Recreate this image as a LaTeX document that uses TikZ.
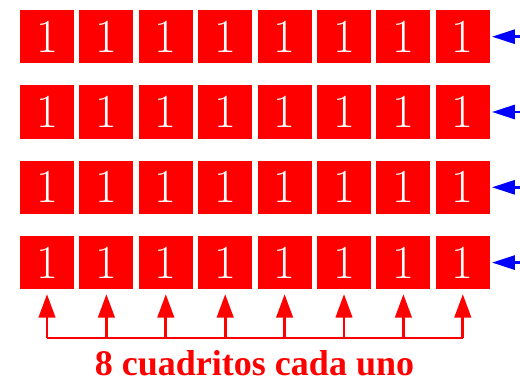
\documentclass[tikz,border=0pt]{standalone}
\usepackage{amsmath,amssymb}
\usepackage{tikz}
\usepackage{xcolor}
\usepackage{fontspec}
\usetikzlibrary{arrows.meta}
\newfontfamily\letrero{Liberation Serif}

\tikzset{
  cuadro/.style={fill=red, text=white, minimum width=1.08cm, minimum height=1.07cm,
    inner sep=0pt, font=\fontsize{27}{27}\selectfont},
  flechaazul/.style={blue, line width=1.6pt, -{Triangle[length=0.46cm,width=0.28cm]}, shorten >=1pt},
  flecharoja/.style={red, line width=1.6pt, -{Triangle[length=0.47cm,width=0.33cm]}, shorten >=0.09cm},
}

\begin{document}
\begin{tikzpicture}[x=0.02cm,y=0.02cm]
\useasboundingbox (0,0) rectangle (520,382);
% fila 1
\node[cuadro] (c11) at (47,345.3) {1};
\node[cuadro] (c12) at (106.4,345.3) {1};
\node[cuadro] (c13) at (165.8,345.3) {1};
\node[cuadro] (c14) at (225.2,345.3) {1};
\node[cuadro] (c15) at (284.6,345.3) {1};
\node[cuadro] (c16) at (344,345.3) {1};
\node[cuadro] (c17) at (403.4,345.3) {1};
\node[cuadro] (c18) at (462.8,345.3) {1};
% fila 2
\node[cuadro] (c21) at (47,270) {1};
\node[cuadro] (c22) at (106.4,270) {1};
\node[cuadro] (c23) at (165.8,270) {1};
\node[cuadro] (c24) at (225.2,270) {1};
\node[cuadro] (c25) at (284.6,270) {1};
\node[cuadro] (c26) at (344,270) {1};
\node[cuadro] (c27) at (403.4,270) {1};
\node[cuadro] (c28) at (462.8,270) {1};
% fila 3
\node[cuadro] (c31) at (47,194.7) {1};
\node[cuadro] (c32) at (106.4,194.7) {1};
\node[cuadro] (c33) at (165.8,194.7) {1};
\node[cuadro] (c34) at (225.2,194.7) {1};
\node[cuadro] (c35) at (284.6,194.7) {1};
\node[cuadro] (c36) at (344,194.7) {1};
\node[cuadro] (c37) at (403.4,194.7) {1};
\node[cuadro] (c38) at (462.8,194.7) {1};
% fila 4
\node[cuadro] (c41) at (47,119.4) {1};
\node[cuadro] (c42) at (106.4,119.4) {1};
\node[cuadro] (c43) at (165.8,119.4) {1};
\node[cuadro] (c44) at (225.2,119.4) {1};
\node[cuadro] (c45) at (284.6,119.4) {1};
\node[cuadro] (c46) at (344,119.4) {1};
\node[cuadro] (c47) at (403.4,119.4) {1};
\node[cuadro] (c48) at (462.8,119.4) {1};
% flechas azules
\coordinate (a1) at (540,345.3);
\coordinate (a2) at (540,270);
\coordinate (a3) at (540,194.7);
\coordinate (a4) at (540,119.4);
\draw[flechaazul] (a1) -- (c18.east);
\draw[flechaazul] (a2) -- (c28.east);
\draw[flechaazul] (a3) -- (c38.east);
\draw[flechaazul] (a4) -- (c48.east);
% llave de abajo
\coordinate (b1) at (47,44);
\coordinate (b2) at (106.4,44);
\coordinate (b3) at (165.8,44);
\coordinate (b4) at (225.2,44);
\coordinate (b5) at (284.6,44);
\coordinate (b6) at (344,44);
\coordinate (b7) at (403.4,44);
\coordinate (b8) at (462.8,44);
\draw[red, line width=1.6pt] (b1) -- (b8);
\draw[flecharoja] (b1) -- (c41.south);
\draw[flecharoja] (b2) -- (c42.south);
\draw[flecharoja] (b3) -- (c43.south);
\draw[flecharoja] (b4) -- (c44.south);
\draw[flecharoja] (b5) -- (c45.south);
\draw[flecharoja] (b6) -- (c46.south);
\draw[flecharoja] (b7) -- (c47.south);
\draw[flecharoja] (b8) -- (c48.south);
\node[red, anchor=base, font=\letrero\fontsize{20.5}{20.5}\selectfont\bfseries] (texto) at (254.5,7) {8 cuadritos cada uno};
\end{tikzpicture}
\end{document}
